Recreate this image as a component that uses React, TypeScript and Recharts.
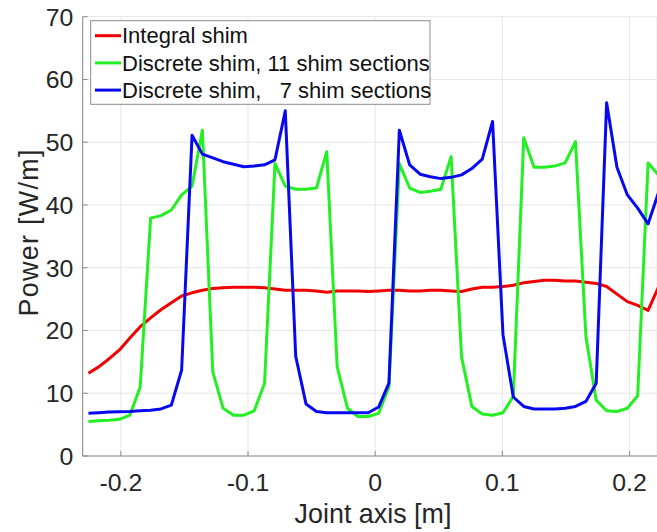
import React from 'react';
import { LineChart, Line, XAxis, YAxis, CartesianGrid, Legend } from 'recharts';

// Joint axis positions [m]
const jointAxis = [
  -0.2255, -0.2174, -0.2092, -0.2011, -0.1929, -0.1848, -0.1766, -0.1685, -0.1603, -0.1522,
  -0.1440, -0.1359, -0.1277, -0.1196, -0.1114, -0.1033, -0.0951, -0.0870, -0.0788, -0.0707,
  -0.0625, -0.0544, -0.0462, -0.0381, -0.0299, -0.0218, -0.0136, -0.0055, 0.0027, 0.0108,
  0.0190, 0.0271, 0.0353, 0.0434, 0.0516, 0.0597, 0.0679, 0.0760, 0.0842, 0.0923,
  0.1005, 0.1086, 0.1168, 0.1249, 0.1331, 0.1412, 0.1494, 0.1575, 0.1657, 0.1738,
  0.1820, 0.1901, 0.1983, 0.2064, 0.2146, 0.2227,
];

// Power [W/m]
const integralShim = [
  13.2, 14.2, 15.5, 16.9, 18.8, 20.6, 22.0, 23.3, 24.4, 25.5,
  26.0, 26.4, 26.7, 26.8, 26.9, 26.9, 26.9, 26.8, 26.6, 26.4,
  26.4, 26.4, 26.3, 26.1, 26.3, 26.3, 26.3, 26.2, 26.3, 26.4,
  26.4, 26.3, 26.3, 26.4, 26.4, 26.3, 26.2, 26.6, 26.9, 26.9,
  27.0, 27.2, 27.6, 27.8, 28.0, 28.0, 27.9, 27.9, 27.7, 27.5,
  27.0, 25.8, 24.6, 24.0, 23.2, 26.9,
];

const discrete11 = [
  5.5, 5.6, 5.7, 5.85, 6.5, 11.0, 37.9, 38.3, 39.2, 41.6,
  43.0, 51.9, 13.4, 7.6, 6.5, 6.5, 7.2, 11.6, 46.6, 43.0,
  42.5, 42.5, 42.7, 48.5, 14.2, 7.6, 6.3, 6.3, 6.8, 11.0,
  46.6, 42.7, 42.0, 42.2, 42.5, 47.7, 15.8, 7.9, 6.7, 6.5,
  6.9, 9.5, 50.7, 46.0, 46.0, 46.2, 46.7, 50.1, 19.0, 8.9,
  7.2, 7.1, 7.6, 9.6, 46.7, 44.8,
];

const discrete7 = [
  6.8, 6.9, 7.0, 7.05, 7.1, 7.2, 7.3, 7.5, 8.1, 13.7,
  51.1, 48.1, 47.5, 46.9, 46.5, 46.1, 46.2, 46.4, 47.2, 55.0,
  15.9, 8.3, 7.1, 6.9, 6.9, 6.9, 6.9, 6.9, 7.8, 11.6,
  51.9, 46.4, 44.9, 44.5, 44.2, 44.4, 44.8, 45.8, 47.3, 53.3,
  19.3, 9.4, 7.9, 7.5, 7.5, 7.5, 7.6, 7.9, 8.7, 11.6,
  56.3, 46.0, 41.6, 39.5, 37.0, 41.9,
];

const xTicks = [-0.2, -0.1, 0, 0.1, 0.2];
const yTicks = [0, 10, 20, 30, 40, 50, 60, 70];

const seriesKeys = ['integral', 'd11', 'd7'];
const seriesNames = ['Integral shim', 'Discrete shim, 11 shim sections', 'Discrete shim,   7 shim sections'];
const seriesColors = ['#f00000', '#22f022', '#0808f0'];

const data = jointAxis.map((x, i) => ({
  x,
  integral: integralShim[i],
  d11: discrete11[i],
  d7: discrete7[i],
}));

const FONT = '"Liberation Sans", Arial, Helvetica, sans-serif';
const AXIS_GRAY = '#8c8c8c';
const TEXT_DARK = '#262626';

const LegendBox = () => (
  <svg width={342} height={87} style={{ display: 'block', overflow: 'visible' }}>
    <rect x={0.7} y={0.7} width={339.3} height={83.6} fill="#ffffff" stroke={AXIS_GRAY} strokeWidth={1} />
    {seriesNames.map((name, i) => {
      const cy = 15.7 + 27.2 * i;
      return (
        <g key={name}>
          <line x1={5} x2={31} y1={cy} y2={cy} stroke={seriesColors[i]} strokeWidth={3} />
          <text
            x={32}
            y={cy + 7.7}
            fontSize={22}
            fontFamily={FONT}
            fill="#111"
            xmlSpace="preserve"
            style={{ whiteSpace: 'pre' }}
          >
            {name}
          </text>
        </g>
      );
    })}
  </svg>
);

const XTitle = () => (
  <text x={373} y={523.3} textAnchor="middle" fontSize={26.9} fontFamily={FONT} fill={TEXT_DARK}>
    Joint axis [m]
  </text>
);

const YTitle = () => (
  <text
    transform="translate(37.5,232.4) rotate(-90)"
    textAnchor="middle"
    fontSize={26.9}
    fontFamily={FONT}
    fill={TEXT_DARK}
    letterSpacing={1.3}
  >
    Power [W/m]
  </text>
);

const fmtX = (v: number) => (v === 0 ? '0' : String(v));

export default function App() {
  return (
    <div style={{ position: 'absolute', left: 0, top: 0, width: 657, height: 532, background: '#fff' }}>
      <LineChart
        width={657}
        height={532}
        data={data}
        margin={{ top: 16.7, right: 0, bottom: 0, left: 0 }}
        style={{ fontFamily: FONT }}
      >
        <CartesianGrid stroke="#e6e6e6" strokeWidth={1} />
        <XAxis
          dataKey="x"
          type="number"
          domain={[-0.23, 0.2216]}
          allowDataOverflow
          ticks={xTicks}
          interval={0}
          tickFormatter={fmtX}
          height={76}
          tickSize={-5}
          tickMargin={22.5}
          axisLine={{ stroke: AXIS_GRAY }}
          tickLine={{ stroke: AXIS_GRAY }}
          tick={{ fill: TEXT_DARK, fontSize: 24.8, fontFamily: FONT }}
          label={{ content: XTitle }}
        />
        <XAxis
          xAxisId="top"
          orientation="top"
          type="number"
          domain={[-0.23, 0.2216]}
          allowDataOverflow
          ticks={xTicks}
          interval={0}
          height={0}
          tickSize={-5}
          axisLine={{ stroke: AXIS_GRAY }}
          tickLine={{ stroke: AXIS_GRAY }}
          tick={() => <g />}
        />
        <YAxis
          type="number"
          domain={[0, 70]}
          ticks={yTicks}
          interval={0}
          width={82.7}
          tickSize={-5}
          tickMargin={14.4}
          axisLine={{ stroke: AXIS_GRAY }}
          tickLine={{ stroke: AXIS_GRAY }}
          tick={{ fill: TEXT_DARK, fontSize: 24.8, fontFamily: FONT }}
          label={{ content: YTitle }}
        />
        {seriesKeys.map((k, i) => (
          <Line
            key={k}
            type="linear"
            dataKey={k}
            name={seriesNames[i]}
            stroke={seriesColors[i]}
            strokeWidth={3}
            dot={false}
            activeDot={false}
            isAnimationActive={false}
            strokeLinejoin="round"
          />
        ))}
        <Legend
          content={LegendBox}
          layout="horizontal"
          verticalAlign="middle"
          align="center"
          wrapperStyle={{ position: 'absolute', left: 90, top: 20, width: 342, height: 87 }}
        />
      </LineChart>
    </div>
  );
}
